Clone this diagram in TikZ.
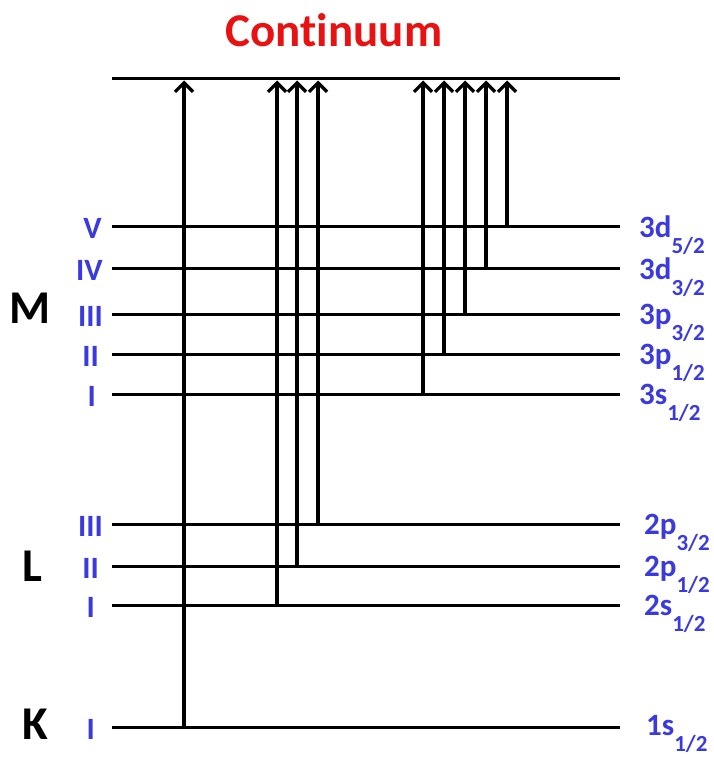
\documentclass[tikz,border=0pt]{standalone}
\usepackage{fontspec}
\setmainfont[Ligatures=NoCommon]{Carlito}
\usetikzlibrary{arrows.meta}
\definecolor{lvlblue}{RGB}{58,58,222}
\definecolor{contred}{RGB}{232,18,18}
\newcommand\orbsub[1]{\raisebox{-16pt}{\fontsize{23}{23}\selectfont #1}}
\begin{document}
\begin{tikzpicture}[x=1pt,y=-1pt,
  level/.style={line width=3pt},
  jump/.style={line width=3.2pt, shorten >=1.5pt, -{Straight Barb[length=9pt,width=18pt,line width=3.2pt]}},
  shelltxt/.style={font=\bfseries\fontsize{47}{47}\selectfont, text=black, inner sep=0},
  romtxt/.style={font=\bfseries\fontsize{31}{31}\selectfont, text=lvlblue, inner sep=0, anchor=east},
  orbtxt/.style={font=\bfseries\fontsize{31}{31}\selectfont, text=lvlblue, inner sep=0, anchor=base west},
]
\useasboundingbox (0,0) rectangle (713,757);

\node[font=\bfseries\fontsize{47}{47}\selectfont, text=contred, inner sep=0] (title) at (334,30) {Continuum};

\coordinate (contL) at (112,79);
\coordinate (contR) at (620,79);
\draw[level] (contL) -- (contR);

% level lines
\foreach \n/\y in {M5/226,M4/268,M3/314,M2/354,M1/394,L3/524,L2/566,L1/605,K1/727}{
  \coordinate (\n l) at (112,\y);
  \coordinate (\n r) at (620,\y);
  \draw[level] (\n l) -- (\n r);
}

% shell letters
\node[shelltxt] (shM) at (30,308) {M};
\node[shelltxt] (shL) at (32,566) {L};
\node[shelltxt] (shK) at (35,724) {K};

% roman labels
\node[romtxt] (rM5) at (102,228) {V};
\node[romtxt] (rM4) at (103,270) {IV};
\node[romtxt] (rM3) at (103,316) {III};
\node[romtxt] (rM2) at (99,356) {II};
\node[romtxt] (rM1) at (96,396) {I};
\node[romtxt] (rL3) at (103,526) {III};
\node[romtxt] (rL2) at (99,568) {II};
\node[romtxt] (rL1) at (95,607) {I};
\node[romtxt] (rK1) at (95,729) {I};

% orbital labels
\node[orbtxt] (oM5) at (639,237) {3d\orbsub{5/2}};
\node[orbtxt] (oM4) at (639,279) {3d\orbsub{3/2}};
\node[orbtxt] (oM3) at (639,324) {3p\orbsub{3/2}};
\node[orbtxt] (oM2) at (639,364) {3p\orbsub{1/2}};
\node[orbtxt] (oM1) at (639,404) {3s\orbsub{1/2}};
\node[orbtxt] (oL3) at (644,534) {2p\orbsub{3/2}};
\node[orbtxt] (oL2) at (644,576) {2p\orbsub{1/2}};
\node[orbtxt] (oL1) at (644,615) {2s\orbsub{1/2}};
\node[orbtxt] (oK1) at (646,735) {1s\orbsub{1/2}};

% transitions
\foreach \n/\x/\y in {K1/184/727,L1/277/605,L2/297/566,L3/318/524,M1/423/394,M2/444/354,M3/465/314,M4/486/268,M5/507/226}{
  \coordinate (\n a) at (\x,\y);
  \draw[jump] (\n a) -- (\n a |- contL);
}
\end{tikzpicture}
\end{document}
